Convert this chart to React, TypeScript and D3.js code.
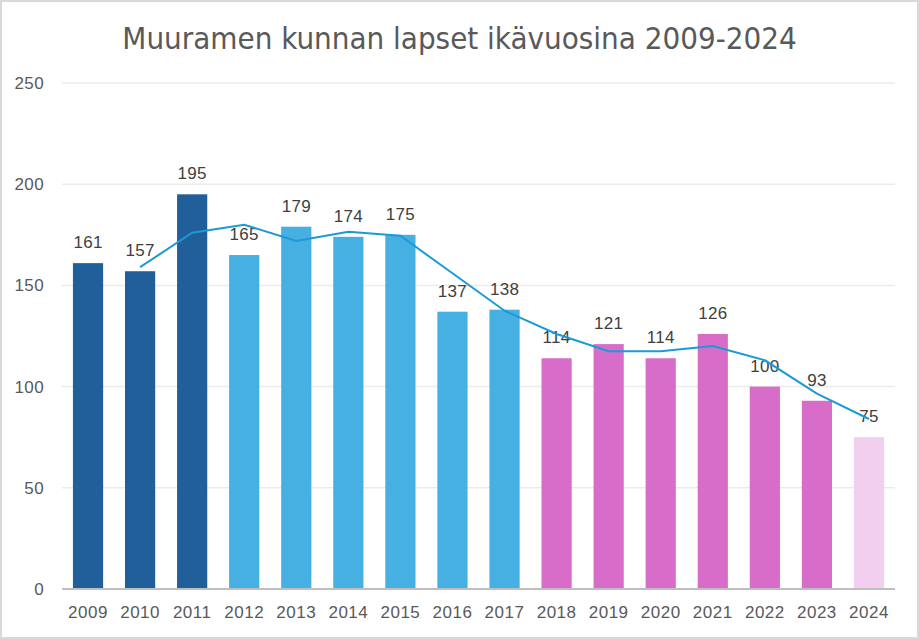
import React from "react";
import * as d3 from "d3";

const years = ["2009","2010","2011","2012","2013","2014","2015","2016","2017","2018","2019","2020","2021","2022","2023","2024"];
const counts = [161,157,195,165,179,174,175,137,138,114,121,114,126,100,93,75];
const trendYears = ["2010","2011","2012","2013","2014","2015","2016","2017","2018","2019","2020","2021","2022","2023","2024"];
const trendValues = [159,176,180,172,176.5,174.5,156,137.5,126,117.5,117.5,120,113,96.5,84];
const barColors = ["#215f9a","#215f9a","#215f9a","#45b0e1","#45b0e1","#45b0e1","#45b0e1","#45b0e1","#45b0e1","#d76dc9","#d76dc9","#d76dc9","#d76dc9","#d76dc9","#d76dc9","#f2cfee"];
const yTicks = [0,50,100,150,200,250];
const title = "Muuramen kunnan lapset ikävuosina 2009-2024";

const W = 919, H = 639;
const m = { left: 62, right: 895, top: 83, bottom: 589 };

export default function App() {
  const x = d3.scaleBand<string>().domain(years).range([m.left, m.right]).paddingInner(0.42).paddingOuter(0.21);
  const y = d3.scaleLinear().domain([0, 250]).range([m.bottom, m.top]);
  const line = d3.line<number>()
    .x((_, i) => (x(trendYears[i]) as number) + x.bandwidth() / 2)
    .y((d) => y(d));
  const font = "'Liberation Sans', Arial, sans-serif";
  return (
    <svg width={W} height={H} style={{ position: "absolute", left: 0, top: 0 }}>
      <rect x={0.5} y={0.5} width={W - 1} height={H - 1} fill="#fff" stroke="#d9d9d9" strokeWidth={3} />
      <text x={W / 2} y={49} textAnchor="middle" fontFamily="'DejaVu Sans Condensed', 'Liberation Sans Narrow', sans-serif" fontSize={31} fill="#595959">{title}</text>
      {yTicks.map((t) => (
        <g key={t}>
          {t > 0 && <line x1={m.left} x2={m.right} y1={y(t)} y2={y(t)} stroke="#ebebeb" strokeWidth={1.5} />}
          <text x={44} y={y(t) + 6} textAnchor="end" fontFamily={font} fontSize={17} letterSpacing={0.4} fill="#595959">{t}</text>
        </g>
      ))}
      {years.map((yr, i) => (
        <g key={yr}>
          <rect x={x(yr)} y={y(counts[i])} width={x.bandwidth()} height={y(0) - y(counts[i])} fill={barColors[i]} />
          <text x={(x(yr) as number) + x.bandwidth() / 2} y={y(counts[i]) - 15} textAnchor="middle" fontFamily={font} fontSize={17} letterSpacing={0.3} fill="#404040">{counts[i]}</text>
          <text x={(x(yr) as number) + x.bandwidth() / 2} y={618} textAnchor="middle" fontFamily={font} fontSize={17} letterSpacing={0.5} fill="#595959">{yr}</text>
        </g>
      ))}
      <line x1={m.left} x2={m.right} y1={y(0)} y2={y(0)} stroke="#bfbfbf" strokeWidth={2} />
      <path d={line(trendValues) || ""} fill="none" stroke="#1b9ad6" strokeWidth={2} />
    </svg>
  );
}
